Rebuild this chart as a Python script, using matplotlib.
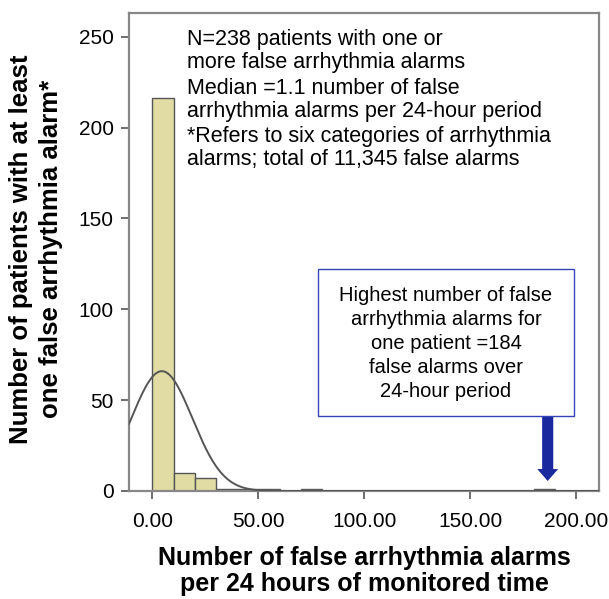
import numpy as np
import matplotlib
matplotlib.use("Agg")
import matplotlib.pyplot as plt

plt.rcParams['font.family'] = ['Liberation Sans', 'DejaVu Sans']

# Data
bin_left = [0, 10, 20, 30, 40, 50, 70, 180]
bin_counts = [216, 10, 7, 1, 1, 1, 1, 1]
bin_width = 10
n_patients = 238
curve_mean = 4.5
curve_sd = 14.4
x_ticks = [0, 50, 100, 150, 200]
y_ticks = [0, 50, 100, 150, 200, 250]
max_patient_value = 185

notes = ["N=238 patients with one or",
         "more false arrhythmia alarms",
         "Median =1.1 number of false",
         "arrhythmia alarms per 24-hour period",
         "*Refers to six categories of arrhythmia",
         "alarms; total of 11,345 false alarms"]
note_baselines_px = [45.5, 68, 94, 116.5, 142.5, 165]

box_text = "Highest number of false\narrhythmia alarms for\none patient =184\nfalse alarms over\n24-hour period"
x_label_lines = ["Number of false arrhythmia alarms", "per 24 hours of monitored time"]
y_label = "Number of patients with at least\none false arrhythmia alarm*"

W, H = 609, 599
fig = plt.figure(figsize=(W/100, H/100), dpi=100)
ax = fig.add_axes([129/W, 1-491/H, (599-129)/W, (491-13)/H])

ax.bar(bin_left, bin_counts, width=bin_width, align='edge',
       facecolor='#e0dca4', edgecolor='#555555', linewidth=1.0, zorder=2)

xs = np.linspace(-11, 210.7, 600)
ys = n_patients * bin_width / (curve_sd * np.sqrt(2*np.pi)) * np.exp(-(xs-curve_mean)**2/(2*curve_sd**2))
ax.plot(xs, ys, color='#555555', lw=1.4, zorder=3)

ax.set_xlim(-11, 210.7)
ax.set_ylim(0, 263)
ax.set_xticks(x_ticks)
ax.set_xticklabels([f"{v:.2f}" for v in x_ticks])
ax.set_yticks(y_ticks)
ax.tick_params(axis='both', labelsize=15, length=6, width=1.2, color='#555555', direction='out', pad=5)
ax.tick_params(axis='x', pad=9)
for s in ax.spines.values():
    s.set_color('#888888')
    s.set_linewidth(1.6)

# axis labels
xc = (129 + 599) / 2 / W
fig.text(xc, 1-564.5/H, x_label_lines[0], fontsize=18, fontweight='bold', ha='center', va='baseline')
fig.text(xc, 1-591.5/H, x_label_lines[1], fontsize=18, fontweight='bold', ha='center', va='baseline')
fig.text(36/W, 1-249/H, y_label, fontsize=18.5, fontweight='bold', rotation=90,
         ha='center', va='center', multialignment='center', linespacing=1.3)

tx = 187/W
for line, yb in zip(notes, note_baselines_px):
    fig.text(tx, 1-yb/H, line, fontsize=15.5, va='baseline', ha='left')

# annotation box
bx0, bx1, by0, by1 = 318/W, 574/W, 1-416/H, 1-269/H
rect = plt.Rectangle((bx0, by0), bx1-bx0, by1-by0, transform=fig.transFigure,
                     facecolor='white', edgecolor='#3344bb', lw=1.0, zorder=5)
fig.patches.append(rect)
fig.text((bx0+bx1)/2, (by0+by1)/2 - 1/H, box_text,
         fontsize=14.5, ha='center', va='center', linespacing=1.33, zorder=6)

# arrow
ax.annotate("", xy=(max_patient_value+1.5, 5.5), xytext=(max_patient_value+1.5, 41.2),
            arrowprops=dict(arrowstyle='simple,head_width=1.5,head_length=0.86,tail_width=0.8',
                            color='#1a2a9e', lw=0, shrinkA=0, shrinkB=0), zorder=6)

fig.savefig("out.png", dpi=100)
